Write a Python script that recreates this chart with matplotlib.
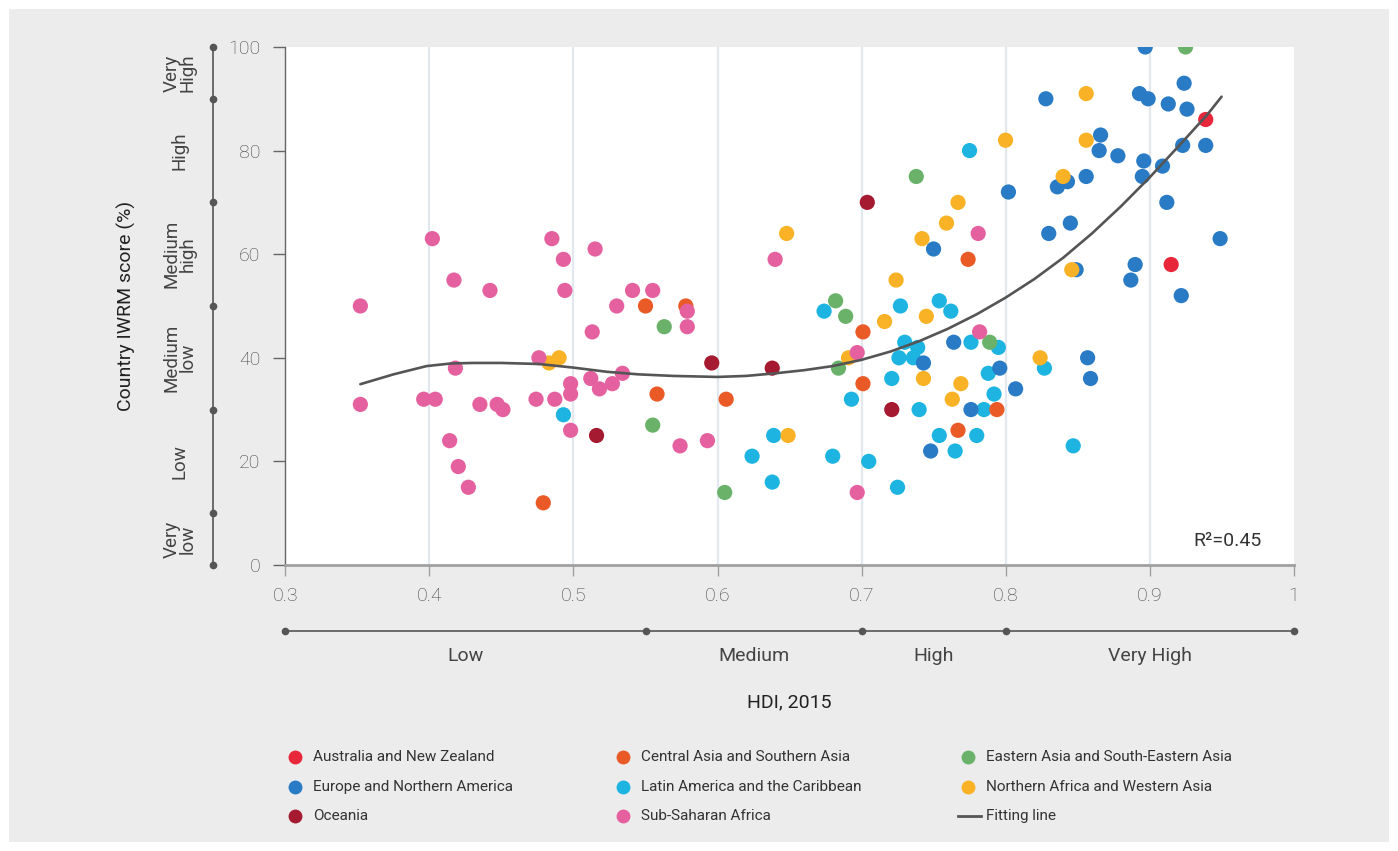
import numpy as np
import matplotlib
matplotlib.use("Agg")
import matplotlib.pyplot as plt
from matplotlib.patches import Rectangle
from matplotlib.lines import Line2D

plt.rcParams['font.family'] = ['Roboto', 'DejaVu Sans']

# ---- data (HDI, IWRM score) ----
aus_nz_x = [0.939, 0.915]
aus_nz_y = [86, 58]

central_asia_x = [0.479, 0.550, 0.578, 0.558, 0.606, 0.701, 0.701, 0.774, 0.767, 0.794]
central_asia_y = [12, 50, 50, 33, 32, 45, 35, 59, 26, 30]

east_asia_x = [0.563, 0.555, 0.605, 0.682, 0.689, 0.684, 0.738, 0.789, 0.925]
east_asia_y = [46, 27, 14, 51, 48, 38, 75, 43, 100]

europe_x = [0.897, 0.924, 0.828, 0.893, 0.899, 0.913, 0.926, 0.866, 0.865, 0.878,
            0.856, 0.836, 0.843, 0.896, 0.895, 0.909, 0.923, 0.939, 0.912, 0.845,
            0.830, 0.949, 0.890, 0.887, 0.802, 0.750, 0.857, 0.859, 0.807, 0.796,
            0.764, 0.743, 0.776, 0.748, 0.922, 0.849]
europe_y = [100, 93, 90, 91, 90, 89, 88, 83, 80, 79,
            75, 73, 74, 78, 75, 77, 81, 81, 70, 66,
            64, 63, 58, 55, 72, 61, 40, 36, 34, 38,
            43, 39, 30, 22, 52, 57]

latin_x = [0.493, 0.639, 0.624, 0.638, 0.680, 0.693, 0.705, 0.674, 0.727, 0.754,
           0.762, 0.730, 0.739, 0.726, 0.736, 0.721, 0.740, 0.754, 0.765, 0.780,
           0.776, 0.795, 0.788, 0.792, 0.785, 0.775, 0.847, 0.827, 0.725]
latin_y = [29, 25, 21, 16, 21, 32, 20, 49, 50, 51,
           49, 43, 42, 40, 40, 36, 30, 25, 22, 25,
           43, 42, 37, 33, 30, 80, 23, 38, 15]

nafrica_x = [0.483, 0.490, 0.648, 0.649, 0.691, 0.716, 0.724, 0.742, 0.745, 0.743,
             0.759, 0.767, 0.769, 0.763, 0.800, 0.856, 0.856, 0.840, 0.846, 0.824]
nafrica_y = [39, 40, 64, 25, 40, 47, 55, 63, 48, 36,
             66, 70, 35, 32, 82, 91, 82, 75, 57, 40]

oceania_x = [0.516, 0.596, 0.638, 0.704, 0.721]
oceania_y = [25, 39, 38, 70, 30]

ssa_x = [0.352, 0.352, 0.402, 0.417, 0.442, 0.418, 0.396, 0.404, 0.435, 0.447,
         0.451, 0.414, 0.420, 0.427, 0.485, 0.493, 0.494, 0.515, 0.476, 0.474,
         0.487, 0.498, 0.498, 0.498, 0.513, 0.512, 0.518, 0.527, 0.534, 0.530,
         0.541, 0.555, 0.579, 0.579, 0.574, 0.593, 0.640, 0.781, 0.697, 0.782,
         0.697]
ssa_y = [50, 31, 63, 55, 53, 38, 32, 32, 31, 31,
         30, 24, 19, 15, 63, 59, 53, 61, 40, 32,
         32, 35, 33, 26, 45, 36, 34, 35, 37, 50,
         53, 53, 49, 46, 23, 24, 59, 64, 41, 45,
         14]

# fitting line
fit_x = [0.352, 0.375, 0.398, 0.415, 0.430, 0.450, 0.476, 0.500, 0.523, 0.545,
         0.569, 0.600, 0.620, 0.640, 0.660, 0.680, 0.700, 0.720, 0.740, 0.760,
         0.780, 0.800, 0.820, 0.840, 0.860, 0.880, 0.900, 0.920, 0.940, 0.950]
fit_y = [34.9, 36.8, 38.4, 38.9, 39.0, 39.0, 38.8, 38.1, 37.3, 36.8,
         36.5, 36.3, 36.5, 37.0, 37.6, 38.4, 39.6, 41.2, 43.2, 45.6,
         48.4, 51.6, 55.2, 59.3, 64.0, 69.2, 74.8, 80.8, 86.9, 90.4]

regions = ["Australia and New Zealand", "Central Asia and Southern Asia",
           "Eastern Asia and South-Eastern Asia", "Europe and Northern America",
           "Latin America and the Caribbean", "Northern Africa and Western Asia",
           "Oceania", "Sub-Saharan Africa"]
colors = ["#e8273b", "#ea5a26", "#6ab26a", "#2a7bc5",
          "#1db4e2", "#f9b225", "#a51a31", "#e5609f"]
series = [(aus_nz_x, aus_nz_y), (central_asia_x, central_asia_y),
          (east_asia_x, east_asia_y), (europe_x, europe_y),
          (latin_x, latin_y), (nafrica_x, nafrica_y),
          (oceania_x, oceania_y), (ssa_x, ssa_y)]
draw_order = [4, 3, 1, 2, 5, 6, 0, 7]

score_bands = ["Very\nlow", "Low", "Medium\nlow", "Medium\nhigh", "High", "Very\nHigh"]
score_edges = [0, 10, 30, 50, 70, 90, 100]
hdi_bands = ["Low", "Medium", "High", "Very High"]
hdi_edges = [0.3, 0.55, 0.7, 0.8, 1.0]

txt = "#444444"

# ---- figure ----
fig = plt.figure(figsize=(13.98, 8.51), dpi=100)
fig.patch.set_facecolor("white")
fig.add_artist(Rectangle((9 / 1398, 9 / 851), 1380 / 1398, 833 / 851,
                         transform=fig.transFigure, facecolor="#ececec",
                         edgecolor="none", zorder=-10))

ax = fig.add_axes([0.2042, 0.3361, 0.7211, 0.6087])
ax.set_facecolor("white")
ax.set_xlim(0.3, 1.0)
ax.set_ylim(0, 100)

for gx in [0.4, 0.5, 0.6, 0.7, 0.8, 0.9]:
    ax.axvline(gx, color="#e2e8ee", lw=1.6, zorder=0)

for i in draw_order:
    sx, sy = series[i]
    ax.scatter(sx, sy, s=120, color=colors[i], edgecolors="none", zorder=3)

ax.plot(fit_x, fit_y, color="#555555", lw=1.9, zorder=4,
        solid_joinstyle="round", solid_capstyle="round")

ax.text(0.978, 4.6, "R²=0.45", ha="right", va="center", fontsize=14, color="#333333")

for s in ["top", "right"]:
    ax.spines[s].set_visible(False)
ax.spines["left"].set_color("#666666")
ax.spines["left"].set_linewidth(1.0)
ax.spines["bottom"].set_color("#a0a0a0")
ax.spines["bottom"].set_linewidth(2.0)

ax.set_yticks([0, 20, 40, 60, 80, 100])
ax.set_xticks([0.3, 0.4, 0.5, 0.6, 0.7, 0.8, 0.9, 1.0])
ax.set_xticklabels(["0.3", "0.4", "0.5", "0.6", "0.7", "0.8", "0.9", "1"])
ax.tick_params(axis="y", length=9, width=1.0, color="#666666", pad=9,
               labelsize=14, labelcolor=txt)
ax.tick_params(axis="x", length=8, width=1.0, color="#a0a0a0", pad=8,
               labelsize=14, labelcolor=txt)
for lab in ax.get_xticklabels() + ax.get_yticklabels():
    lab.set_fontweight("light")

# score category axis on the left
yt = ax.get_yaxis_transform()
ax.plot([-0.0719] * len(score_edges), score_edges, color="#555555", lw=1.2,
        marker="o", ms=4.5, transform=yt, clip_on=False)
for k, name in enumerate(score_bands):
    mid = (score_edges[k] + score_edges[k + 1]) / 2
    ax.text(-0.105, mid, name, rotation=90, ha="center", va="center",
            fontsize=13.5, color=txt, linespacing=0.85,
            transform=yt, clip_on=False)
ax.text(-0.158, 50, "Country IWRM score (%)", rotation=90, ha="center", va="center",
        fontsize=14, color="#222222", transform=yt)

# HDI category axis under the plot
xt = ax.get_xaxis_transform()
ax.plot(hdi_edges, [-0.1274] * len(hdi_edges), color="#555555", lw=1.2,
        marker="o", ms=4.5, transform=xt, clip_on=False)
for k, name in enumerate(hdi_bands):
    mid = (hdi_edges[k] + hdi_edges[k + 1]) / 2
    ax.text(mid, -0.176, name, ha="center", va="center", fontsize=14,
            color=txt, transform=xt)
ax.text(0.65, -0.266, "HDI, 2015", ha="center", va="center", fontsize=14,
        color="#222222", transform=xt)

# legend, laid out by hand in three columns
col_x = [295, 623, 968]
row_y = [757, 787, 816]
labels = regions + ["Fitting line"]
for k, name in enumerate(labels):
    r, c = divmod(k, 3)
    fx = col_x[c] / 1398
    fy = 1 - row_y[r] / 851
    if k < len(regions):
        fig.add_artist(Line2D([fx], [fy], marker="o", ms=10, color=colors[k],
                              mec="none", transform=fig.transFigure))
    else:
        fig.add_artist(Line2D([fx - 10 / 1398, fx + 13 / 1398], [fy, fy],
                              color="#555555", lw=2, transform=fig.transFigure))
    fig.text(fx + 18 / 1398, fy, name, ha="left", va="center", fontsize=11,
             color="#333333")

fig.savefig("out.png", dpi=100, facecolor=fig.get_facecolor())
